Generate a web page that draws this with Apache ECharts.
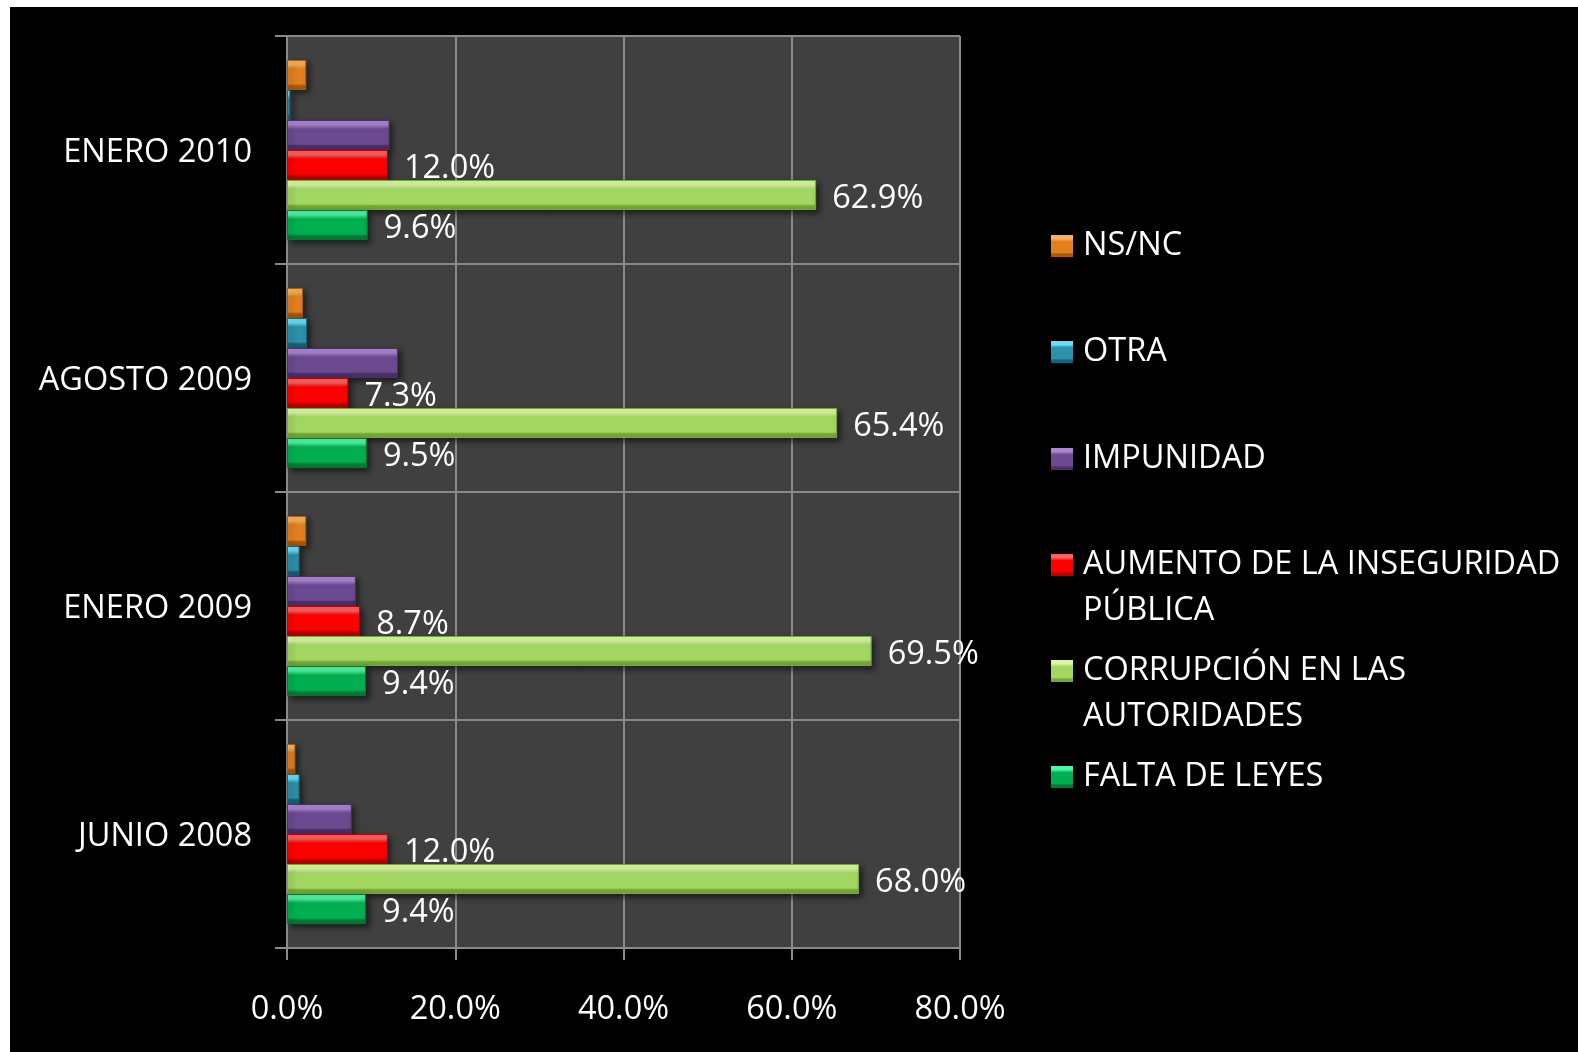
<!DOCTYPE html>
<html>
<head>
<meta charset="utf-8">
<title>Principales problemas</title>
<script src="https://cdn.jsdelivr.net/npm/echarts@6/dist/echarts.min.js"></script>
<style>
  html, body { margin: 0; padding: 0; background: #ffffff; }
  #chart { position: absolute; left: 10px; top: 7px; width: 1568px; height: 1045px; background: #000000; }
</style>
</head>
<body>
<div id="chart"></div>
<script>
// Survey periods, bottom to top
const categories = ['JUNIO 2008', 'ENERO 2009', 'AGOSTO 2009', 'ENERO 2010'];

// Percentages for each answer, one value per period (same order as categories)
const nsnc = [1.0, 2.3, 1.9, 2.3];
const otra = [1.5, 1.5, 2.4, 0.4];
const impunidad = [7.7, 8.2, 13.2, 12.2];
const aumentoInseguridad = [12.0, 8.7, 7.3, 12.0];
const corrupcion = [68.0, 69.5, 65.4, 62.9];
const faltaDeLeyes = [9.4, 9.4, 9.5, 9.6];

const xTicks = [0, 20, 40, 60, 80];

// Series listed top to bottom inside each period band
const seriesNames = [
  'NS/NC',
  'OTRA',
  'IMPUNIDAD',
  'AUMENTO DE LA INSEGURIDAD PÚBLICA',
  'CORRUPCIÓN EN LAS AUTORIDADES',
  'FALTA DE LEYES'
];
const seriesValues = [nsnc, otra, impunidad, aumentoInseguridad, corrupcion, faltaDeLeyes];
const labelled = [false, false, false, true, true, true];

// Bevel-like shading: light top edge, flat middle, dark bottom edge
const palette = [
  { top: '#fbb25a', base: '#e3801e', bottom: '#a95a0e' },
  { top: '#66e0fa', base: '#2e90aa', bottom: '#1a6276' },
  { top: '#ab86d2', base: '#6c4a92', bottom: '#4a3066' },
  { top: '#ff6060', base: '#ff0000', bottom: '#b80000' },
  { top: '#dcf8a6', base: '#a2d862', bottom: '#76a83a' },
  { top: '#4ff5a0', base: '#00b050', bottom: '#007a36' }
];

function bevel(c) {
  return new echarts.graphic.LinearGradient(0, 0, 0, 1, [
    { offset: 0, color: c.top },
    { offset: 0.16, color: c.top },
    { offset: 0.3, color: c.base },
    { offset: 0.8, color: c.base },
    { offset: 0.86, color: c.bottom },
    { offset: 1, color: c.bottom }
  ]);
}

// Legend wraps the long answers over two lines
const legendLines = {
  'AUMENTO DE LA INSEGURIDAD PÚBLICA': ['AUMENTO DE LA INSEGURIDAD', 'PÚBLICA'],
  'CORRUPCIÓN EN LAS AUTORIDADES': ['CORRUPCIÓN EN LAS', 'AUTORIDADES']
};

const FONT = 'Open Sans';
const FS = 32.5;
const LINE = 46;

// The legend icon sits on the first text line: a blank lead line keeps
// the wrapped entries centred on that line
function legendFormat(name) {
  const lines = legendLines[name];
  if (!lines) return '{g|}' + name;
  return '{e|}\n' + lines.map(l => '{g|}' + l).join('\n');
}

// One legend block per answer, top to bottom
const legendTops = [216, 322, 429, 489, 595, 747];
const legends = seriesNames.map((name, i) => ({
  data: [name],
  orient: 'vertical',
  left: 1041,
  top: legendTops[i],
  padding: 0,
  itemWidth: 22,
  itemHeight: 22,
  icon: 'rect',
  selectedMode: false,
  itemStyle: { shadowBlur: 0, shadowOffsetX: 0, shadowOffsetY: 0, borderWidth: 0 },
  formatter: legendFormat,
  textStyle: {
    color: '#ffffff',
    fontFamily: FONT,
    fontSize: FS,
    lineHeight: LINE,
    rich: {
      g: { width: 5, height: LINE, lineHeight: LINE },
      e: { height: LINE, lineHeight: LINE }
    }
  }
}));

const series = seriesNames.map((name, i) => ({
  name: name,
  type: 'bar',
  data: seriesValues[i],
  barGap: '0%',
  barCategoryGap: '21%',
  itemStyle: {
    color: bevel(palette[i]),
    borderColor: palette[i].bottom,
    borderWidth: 1,
    shadowColor: 'rgba(0,0,0,0.55)',
    shadowBlur: 6,
    shadowOffsetX: 3,
    shadowOffsetY: 3
  },
  label: {
    show: labelled[i],
    position: 'right',
    distance: 16,
    offset: [0, 4],
    color: '#ffffff',
    fontFamily: FONT,
    fontSize: FS,
    formatter: p => p.value.toFixed(1) + '%'
  },
  emphasis: { disabled: true }
}));

const gridColor = '#8a8a8a';

const option = {
  backgroundColor: '#000000',
  animation: false,
  legend: legends,
  grid: {
    show: true,
    left: 277,
    top: 29,
    width: 673,
    height: 912,
    backgroundColor: '#404040',
    borderWidth: 0
  },
  xAxis: {
    type: 'value',
    min: xTicks[0],
    max: xTicks[xTicks.length - 1],
    interval: xTicks[1] - xTicks[0],
    axisLine: { show: true, lineStyle: { color: gridColor, width: 2 } },
    axisTick: { show: true, length: 12, lineStyle: { color: gridColor, width: 2 } },
    splitLine: { show: true, lineStyle: { color: gridColor, width: 2 } },
    axisLabel: {
      color: '#ffffff',
      fontFamily: FONT,
      fontSize: FS,
      margin: 45,
      formatter: v => v.toFixed(1) + '%'
    }
  },
  yAxis: {
    type: 'category',
    data: categories,
    axisLine: { show: true, lineStyle: { color: gridColor, width: 2 } },
    axisTick: { show: true, length: 12, lineStyle: { color: gridColor, width: 2 } },
    splitLine: { show: true, lineStyle: { color: gridColor, width: 2 } },
    axisLabel: {
      color: '#ffffff',
      fontFamily: FONT,
      fontSize: FS,
      margin: 35,
      formatter: v => '{c|' + v + '}',
      rich: {
        c: { color: '#ffffff', fontFamily: FONT, fontSize: FS, padding: [5, 0, 0, 0] }
      }
    }
  },
  series: series
};

const chart = echarts.init(document.getElementById('chart'));
chart.setOption(option);
</script>
</body>
</html>
